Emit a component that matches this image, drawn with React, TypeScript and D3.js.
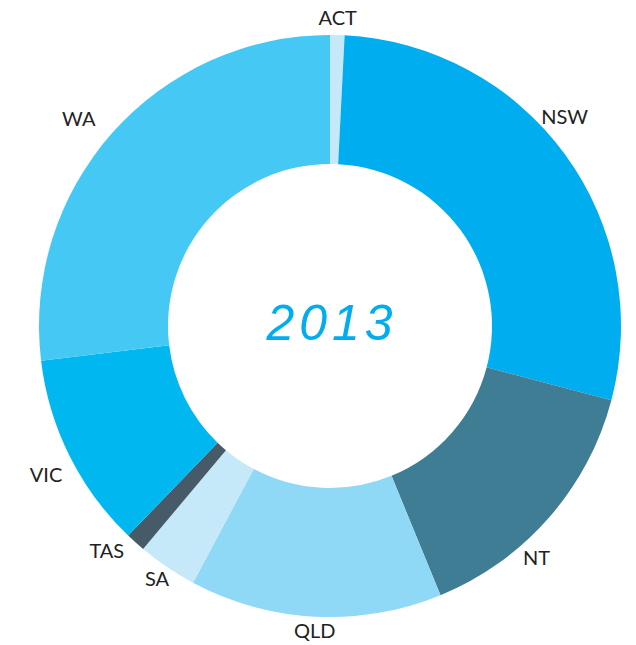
import React from "react";
import * as d3 from "d3";

const states = ["ACT", "NSW", "NT", "QLD", "SA", "TAS", "VIC", "WA"];
const shares = [0.8, 28.3, 14.7, 14.0, 3.3, 1.1, 10.9, 26.9];
const colors = ["#c6e9f9", "#00aeef", "#3e7d94", "#8fd8f6", "#c6e9f9", "#465a68", "#00b7ef", "#46c8f5"];
const yearLabel = "2013";

// label layout nudges (degrees, px) to mirror the reference label placement
const labelAngleNudge = [0, -5.7, 7, 0, 0.4, 3, -1, -2];
const labelRadiusNudge = [-3, 3, -2, -8, -6, 4, 8, 14];

const W = 636;
const H = 645;
const cx = 330;
const cy = 326;
const outerR = 291;
const innerR = 162;
const labelR = 312;

export default function App() {
  const data = states.map((s, i) => ({ name: s, value: shares[i], color: colors[i], i }));
  const pie = d3.pie<any>().value((d: any) => d.value).sort(null).startAngle(0).endAngle(2 * Math.PI);
  const arcs = pie(data);
  const arc = d3.arc<any>().innerRadius(innerR).outerRadius(outerR);

  return (
    <svg width={W} height={H} style={{ position: "absolute", left: 0, top: 0 }}>
      <g transform={`translate(${cx},${cy})`}>
        {arcs.map((a: any) => (
          <path key={a.data.name} d={arc(a) as string} fill={a.data.color} />
        ))}
        {arcs.map((a: any) => {
          const mid = (a.startAngle + a.endAngle) / 2 + (labelAngleNudge[a.data.i] * Math.PI) / 180;
          const r = labelR + labelRadiusNudge[a.data.i];
          const x = r * Math.sin(mid);
          const y = -r * Math.cos(mid);
          return (
            <text
              key={"l" + a.data.name}
              x={x}
              y={y}
              textAnchor="middle"
              dominantBaseline="central"
              fontFamily="Lato, 'Noto Sans', sans-serif"
              fontSize={20}
              fill="#222"
            >
              {a.data.name}
            </text>
          );
        })}
        <text
          x={2}
          y={14}
          textAnchor="middle"
          fontFamily="'Liberation Sans', Arial, sans-serif"
          fontStyle="italic"
          fontSize={50}
          letterSpacing={5}
          fill="#00aeef"
        >
          {yearLabel}
        </text>
      </g>
    </svg>
  );
}
